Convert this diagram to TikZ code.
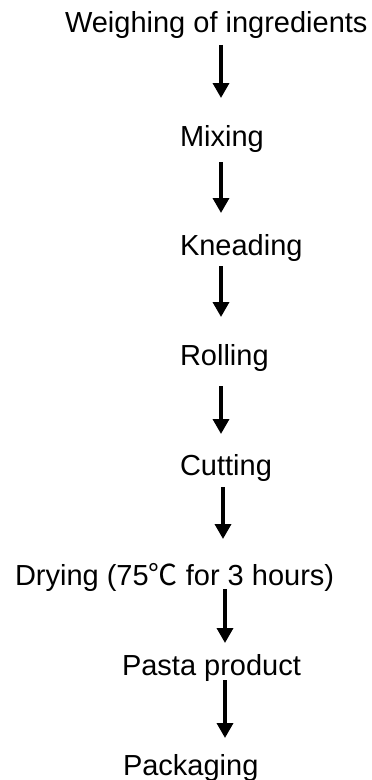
\documentclass[tikz,border=0pt]{standalone}
\usepackage{fontspec}
\setmainfont{Liberation Sans}
\newfontfamily\cjk{Noto Sans CJK SC}
\usetikzlibrary{arrows.meta}
\begin{document}
\begin{tikzpicture}[x=1bp,y=-1bp,
  lbl/.style={anchor=base west,inner sep=0pt,outer sep=0pt,font=\fontsize{29bp}{34bp}\selectfont},
  flow/.style={line width=3.5bp,-{Triangle[width=16bp,length=15bp]}}]
\useasboundingbox (0,0) rectangle (371,780);
\node[lbl] (w) at (65,33) {Weighing of ingredients};
\node[lbl] (m) at (180,146) {Mixing};
\node[lbl] (k) at (180,255) {Kneading};
\node[lbl] (r) at (180,365) {Rolling};
\node[lbl] (c) at (180,475) {Cutting};
\node[lbl] (d) at (15,585) {Drying (75{\cjk ℃} for 3 hours)};
\node[lbl] (p) at (122,675) {Pasta product};
\node[lbl] (g) at (123,775) {Packaging};
\coordinate (a1s) at (221,45);  \coordinate (a1e) at (221,98);
\coordinate (a2s) at (221,162); \coordinate (a2e) at (221,213);
\coordinate (a3s) at (221,266); \coordinate (a3e) at (221,317);
\coordinate (a4s) at (221,386); \coordinate (a4e) at (221,434);
\coordinate (a5s) at (223,487); \coordinate (a5e) at (223,539);
\coordinate (a6s) at (225,589); \coordinate (a6e) at (225,643);
\coordinate (a7s) at (225,680); \coordinate (a7e) at (225,738);
\draw[flow] (a1s) -- (a1e);
\draw[flow] (a2s) -- (a2e);
\draw[flow] (a3s) -- (a3e);
\draw[flow] (a4s) -- (a4e);
\draw[flow] (a5s) -- (a5e);
\draw[flow] (a6s) -- (a6e);
\draw[flow] (a7s) -- (a7e);
\end{tikzpicture}
\end{document}
